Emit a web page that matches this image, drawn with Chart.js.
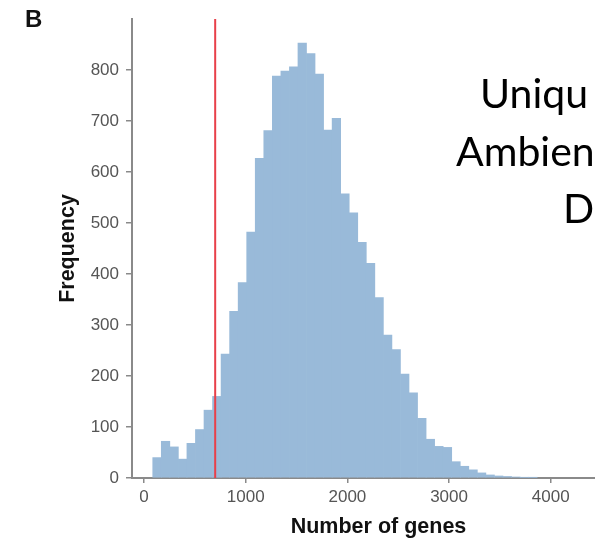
<!DOCTYPE html>
<html>
<head>
<meta charset="utf-8">
<script src="https://cdn.jsdelivr.net/npm/chart.js@4"></script>
<style>
  html, body { margin: 0; padding: 0; background: #fff; overflow: hidden; width: 595px; height: 543px; }
  #genesChart { display: block; }
</style>
</head>
<body>
<canvas id="genesChart" width="625" height="543"></canvas>
<script>
// histogram bins (number of genes per cell)
const binStart = 86
const binWidth = 84
const geneCounts = [
  40, 72, 61, 37, 68, 95, 133, 160, 243, 327,
  383, 482, 627, 681, 788, 798, 806, 853, 832, 792,
  682, 705, 557, 520, 462, 421, 354, 280, 252, 204,
  167, 117, 76, 62, 60, 32, 23, 16, 10, 6,
  4, 3, 2, 1, 1
]
const cutoff = 700 // red threshold line

// axis ticks
const xTickValues = [0, 1000, 2000, 3000, 4000]
const yTickValues = [0, 100, 200, 300, 400, 500, 600, 700, 800]

// text from the slide laid over the figure
const panelLabel = 'B'
const overlayLines = ['Uniqu', 'Ambien', 'De']

const axisColor = '#8a8a8a'
const tickFont = { family: 'Liberation Sans, Arial, sans-serif', size: 17 }
const titleFont = { family: 'Liberation Sans, Arial, sans-serif', size: 21.5, weight: 'bold' }

// build the bar points from bin centers
const barPoints = () => geneCounts.map((count, i) => ({ x: binStart + binWidth * (i + 0.5), y: count }))

// draws the panel letter and the slide text
const overlayText = {
  id: 'overlayText',
  afterDraw(chart) {
    const ctx = chart.ctx
    ctx.save()
    ctx.fillStyle = '#111'
    ctx.textBaseline = 'alphabetic'
    ctx.font = 'bold 24px Liberation Sans, Arial, sans-serif'
    ctx.fillText(panelLabel, 25, 27)

    ctx.fillStyle = '#000'
    ctx.font = '41px Lato, sans-serif'
    ctx.fillText(overlayLines[0], 480, 108)
    ctx.fillText(overlayLines[1], 456, 166)
    ctx.fillText(overlayLines[2], 563, 223)
    ctx.restore()
  }
}

const graph = () => {
  const ctx = document.getElementById('genesChart').getContext('2d')
  new Chart(ctx, {
    data: {
      datasets: [
        {
          type: 'line',
          data: [{ x: cutoff, y: 0 }, { x: cutoff, y: 900 }],
          borderColor: '#e8404a',
          borderWidth: 2,
          pointRadius: 0,
          order: 0
        },
        {
          type: 'bar',
          data: barPoints(),
          backgroundColor: '#99bad9',
          borderWidth: 0,
          barPercentage: 1,
          categoryPercentage: 1,
          order: 1
        }
      ]
    },
    options: {
      responsive: false,
      animation: false,
      events: [],
      layout: { padding: { top: 19, left: 0, right: 0, bottom: 0 } },
      plugins: { legend: { display: false }, tooltip: { enabled: false } },
      scales: {
        x: {
          type: 'linear',
          offset: false,
          min: -118,
          max: 4730,
          afterBuildTicks: scale => { scale.ticks = xTickValues.map(v => ({ value: v })) },
          afterFit: scale => { scale.height = 65 },
          grid: { offset: false, drawOnChartArea: false, drawTicks: true, tickLength: 5, color: axisColor, lineWidth: 1.5 },
          border: { display: true, color: axisColor, width: 2 },
          ticks: { color: '#555', font: tickFont, padding: 4, maxRotation: 0, callback: v => String(v) },
          title: { display: true, text: 'Number of genes', color: '#111', font: titleFont, padding: { top: 0, bottom: 3 } }
        },
        y: {
          min: 0,
          max: 900,
          afterBuildTicks: scale => { scale.ticks = yTickValues.map(v => ({ value: v })) },
          afterFit: scale => { scale.width = 132 },
          grid: { drawOnChartArea: false, drawTicks: true, tickLength: 6, color: axisColor, lineWidth: 1.5 },
          border: { display: true, color: axisColor, width: 2 },
          ticks: { color: '#555', font: tickFont, padding: 7 },
          title: { display: true, text: 'Frequency', color: '#111', font: titleFont, padding: { top: 55, bottom: 0 } }
        }
      }
    },
    plugins: [overlayText]
  })
}

graph()
</script>
</body>
</html>
